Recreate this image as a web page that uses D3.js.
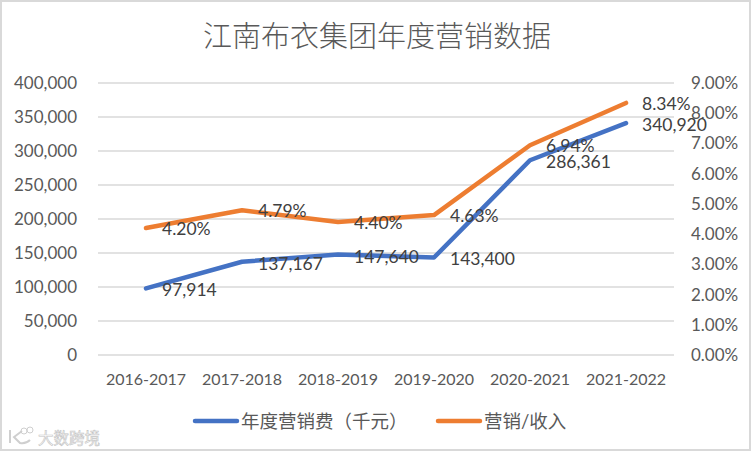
<!DOCTYPE html>
<html>
<head>
<meta charset="utf-8">
<script src="https://cdn.jsdelivr.net/npm/d3@7"></script>
<style>
  html, body { margin: 0; padding: 0; background: #fff; }
  svg { display: block; }
  text { font-family: Lato, "Noto Sans CJK SC", sans-serif; }
  .domain { display: none; }
  .tick line { display: none; }
</style>
</head>
<body>
<div id="draw"></div>
<script>
var years = ['2016-2017', '2017-2018', '2018-2019', '2019-2020', '2020-2021', '2021-2022'];
var spend = [97914, 137167, 147640, 143400, 286361, 340920];
var ratio = [4.20, 4.79, 4.40, 4.63, 6.94, 8.34];
var spendTicks = [0, 50000, 100000, 150000, 200000, 250000, 300000, 350000, 400000];
var ratioTicks = [0, 1, 2, 3, 4, 5, 6, 7, 8, 9];
var chartTitle = '江南布衣集团年度营销数据';
var seriesNames = ['年度营销费（千元）', '营销/收入'];

var width = 752, height = 452;
var textCol = '#595959', gridCol = '#d9d9d9', blue = '#4472c4', orange = '#ed7d31';

var svg = d3.select('#draw').append('svg').attr('width', width).attr('height', height);

// chart frame
svg.append('rect')
    .attr('x', 1).attr('y', 1)
    .attr('width', width - 3).attr('height', height - 3)
    .attr('fill', '#fff').attr('stroke', '#d9d9d9').attr('stroke-width', 2);

var x = d3.scaleBand().domain(years).range([98, 674]);
var yL = d3.scaleLinear().domain([0, 400000]).range([355, 83]);
var yR = d3.scaleLinear().domain([0, 9]).range([355, 83]);

svg.append('text')
    .attr('x', 377).attr('y', 47)
    .attr('text-anchor', 'middle')
    .attr('font-size', 29).attr('font-weight', 300)
    .attr('fill', textCol)
    .text(chartTitle);

// grid lines
svg.append('g').selectAll('line')
    .data(spendTicks)
    .join('line')
    .attr('x1', 98).attr('x2', 674)
    .attr('y1', function (d) { return yL(d); })
    .attr('y2', function (d) { return yL(d); })
    .attr('stroke', gridCol).attr('stroke-width', 1.5);

var leftAxis = d3.axisLeft(yL).tickValues(spendTicks).tickFormat(d3.format(','));
var rightAxis = d3.axisRight(yR).tickValues(ratioTicks).tickFormat(function (d) { return d3.format('.2f')(d) + '%'; });
var bottomAxis = d3.axisBottom(x);

function styleAxis(g, size) {
    g.selectAll('text').attr('fill', textCol).attr('font-size', size);
}

svg.append('g').attr('transform', 'translate(85,0)').call(leftAxis.tickSize(0).tickPadding(8)).call(styleAxis, 17);
svg.append('g').attr('transform', 'translate(674,0)').call(rightAxis.tickSize(0).tickPadding(17)).call(styleAxis, 17);
svg.append('g').attr('transform', 'translate(0,374)').call(bottomAxis.tickSize(0).tickPadding(0)).call(styleAxis, 16);

var cx = function (d, i) { return x(years[i]) + x.bandwidth() / 2; };
var lineL = d3.line().x(cx).y(function (d) { return yL(d); });
var lineR = d3.line().x(cx).y(function (d) { return yR(d); });

svg.append('path').datum(spend)
    .attr('d', lineL).attr('fill', 'none')
    .attr('stroke', blue).attr('stroke-width', 4.5).attr('stroke-linecap', 'round').attr('stroke-linejoin', 'round');
svg.append('path').datum(ratio)
    .attr('d', lineR).attr('fill', 'none')
    .attr('stroke', orange).attr('stroke-width', 4.5).attr('stroke-linecap', 'round').attr('stroke-linejoin', 'round');

// data labels sit right of and a little below each point
svg.append('g').selectAll('text')
    .data(spend)
    .join('text')
    .attr('x', function (d, i) { return cx(d, i) + 16; })
    .attr('y', function (d) { return yL(d) + 8; })
    .attr('font-size', 17.5).attr('fill', '#404040')
    .text(d3.format(','));
svg.append('g').selectAll('text')
    .data(ratio)
    .join('text')
    .attr('x', function (d, i) { return cx(d, i) + 16; })
    .attr('y', function (d) { return yR(d) + 7; })
    .attr('font-size', 17.5).attr('fill', '#404040')
    .text(function (d) { return d3.format('.2f')(d) + '%'; });

// legend
var legendX = [195, 438], legendCols = [blue, orange];
var legend = svg.append('g').selectAll('g')
    .data(seriesNames)
    .join('g')
    .attr('transform', function (d, i) { return 'translate(' + legendX[i] + ',421)'; });
legend.append('line')
    .attr('x1', 0).attr('x2', 42)
    .attr('stroke', function (d, i) { return legendCols[i]; })
    .attr('stroke-width', 4.5).attr('stroke-linecap', 'round');
legend.append('text')
    .attr('x', 46).attr('y', 6.5)
    .attr('font-size', 18.5).attr('fill', textCol)
    .text(function (d) { return d; });

// watermark
var mark = svg.append('g').attr('fill', 'none').attr('stroke', '#cfcfcf').attr('stroke-width', 2);
mark.append('path').attr('d', 'M10 430 V443 M22 431 L14 437 L20 443 Q26 444 30 440');
mark.append('circle').attr('cx', 24).attr('cy', 431).attr('r', 3).attr('stroke-width', 1);
mark.append('circle').attr('cx', 30).attr('cy', 430).attr('r', 3).attr('stroke-width', 1);
svg.append('text')
    .attr('x', 38).attr('y', 444)
    .attr('font-size', 15.5).attr('fill', '#fff')
    .attr('stroke', '#c4c4c4').attr('stroke-width', 0.6)
    .text('大数跨境');
</script>
</body>
</html>
